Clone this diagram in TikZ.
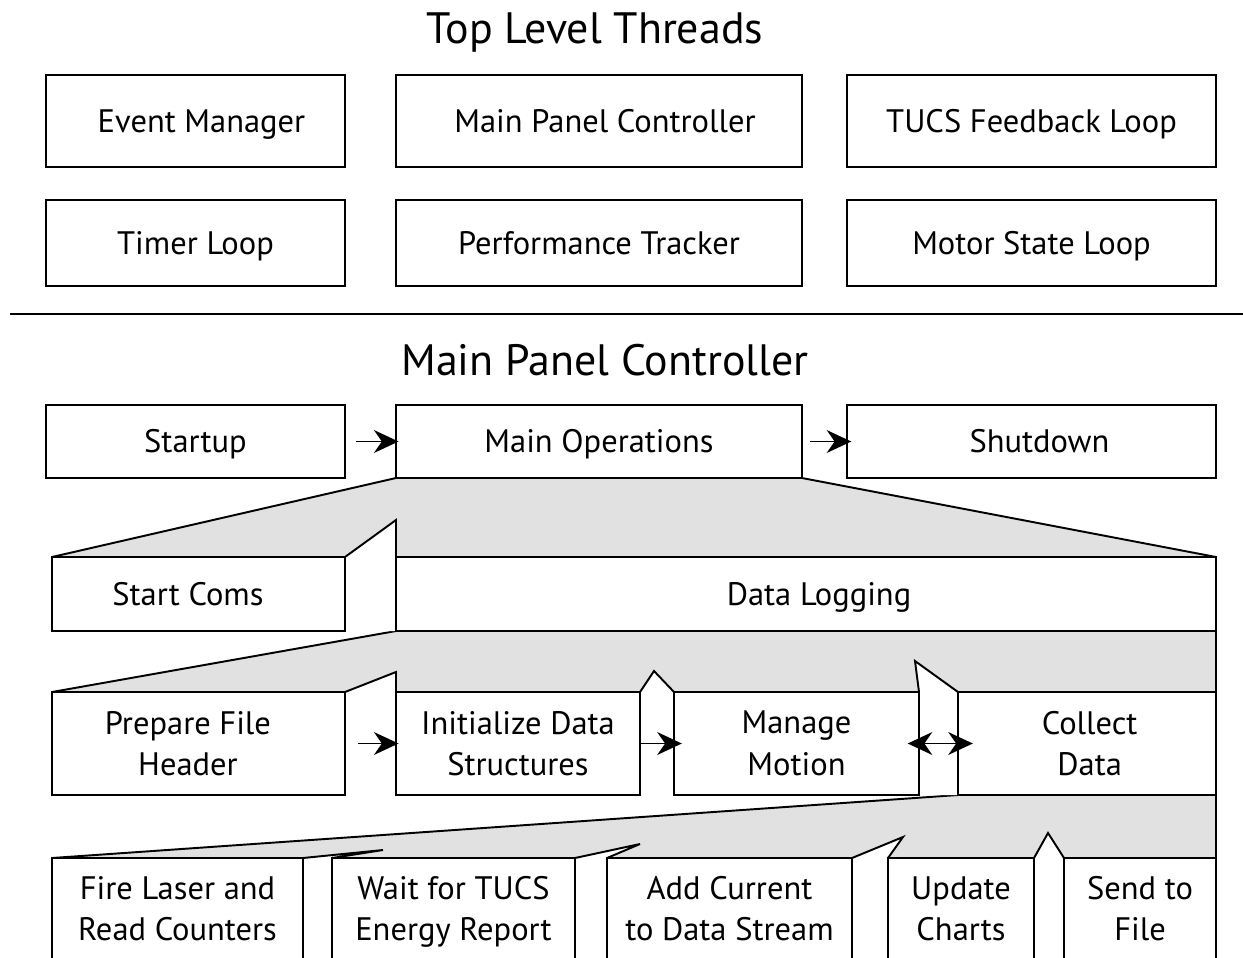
\documentclass[tikz,border=0pt]{standalone}
\usepackage{fontspec}
\setmainfont{PT Sans}
\usetikzlibrary{arrows.meta,fit}
\definecolor{fangray}{RGB}{224,225,224}
\newcommand\mystrut{\rule[-5pt]{0pt}{18pt}}
\begin{document}
\begin{tikzpicture}[x=0.02cm,y=-0.02cm,line width=1.1pt,
  box/.style={draw,fill=white,inner sep=0pt},
  lbl/.style={inner sep=0pt,align=center,yshift=-2.3pt,font=\fontsize{18.5}{23.5}\selectfont,
    execute at begin node=\mystrut,execute at end node=\mystrut},
  ttl/.style={inner sep=0pt,font=\fontsize{25}{29}\selectfont},
  tip/.tip={Stealth[length=14pt,width=13pt,inset=4.5pt]},
  arr/.style={-tip},
  darr/.style={tip-tip},
  fan/.style={fill=fangray},
  gap/.style={fill=white}]
\useasboundingbox (0,0) rectangle (1243,957);
\clip (0,0) rectangle (1243,957);

% titles
\node[ttl] (t1) at (595,33) {Top Level Threads};
\node[ttl] (t2) at (605,360) {Main Panel Controller};
\draw (10,314) -- (1243,314);

% top level threads
\node[box,fit={(46,75)(345,167)},label={[lbl,xshift=3.4pt]center:Event Manager}] (em) {};
\node[box,fit={(396,75)(802,167)},label={[lbl,xshift=3.4pt]center:Main Panel Controller}] (mpc) {};
\node[box,fit={(847,75)(1216,167)},label={[lbl]center:TUCS Feedback Loop}] (tucs) {};
\node[box,fit={(46,200)(345,286)},label={[lbl]center:Timer Loop}] (tl) {};
\node[box,fit={(396,200)(802,286)},label={[lbl]center:Performance Tracker}] (pt) {};
\node[box,fit={(847,200)(1216,286)},label={[lbl]center:Motor State Loop}] (msl) {};

% fans
\fill[fan] (396,478) -- (802,478) -- (1216,557) -- (52,557) -- cycle;
\draw (396,478) -- (52,557);
\draw (802,478) -- (1216,557);
\fill[fan] (396,631) -- (1216,631) -- (1216,692) -- (52,692) -- cycle;
\draw (396,631) -- (52,692);
\fill[fan] (958,795) -- (1216,795) -- (1216,858) -- (52,858) -- cycle;
\draw (958,795) -- (52,858);
\draw (1216,557) -- (1216,960);

% gaps between boxes
\fill[gap] (345,557) -- (396,520) -- (396,631) -- (345,631) -- cycle;
\fill[gap] (345,692) -- (396,672) -- (396,795) -- (345,795) -- cycle;
\fill[gap] (640,692) -- (654,671) -- (674,692) -- (674,795) -- (640,795) -- cycle;
\fill[gap] (919,692) -- (915,661) -- (958,692) -- (958,795) -- (919,795) -- cycle;
\fill[gap] (303,858) -- (383,850) -- (332,858) -- (332,960) -- (303,960) -- cycle;
\fill[gap] (575,858) -- (640,844) -- (607,858) -- (607,960) -- (575,960) -- cycle;
\fill[gap] (852,858) -- (903,837) -- (888,858) -- (888,960) -- (852,960) -- cycle;
\fill[gap] (1034,858) -- (1048,833) -- (1064,858) -- (1064,960) -- (1034,960) -- cycle;

% main panel controller rows
\node[box,fit={(46,405)(345,478)},label={[lbl]center:Startup}] (su) {};
\node[box,fit={(396,405)(802,478)},label={[lbl]center:Main Operations}] (mo) {};
\node[box,fit={(847,405)(1216,478)},label={[lbl,xshift=4.5pt]center:Shutdown}] (sd) {};

\node[box,fit={(52,557)(345,631)},label={[lbl,xshift=-6pt]center:Start Coms}] (sc) {};
\node[box,fit={(396,557)(1216,631)},label={[lbl,xshift=7.4pt]center:Data Logging}] (dl) {};

\node[box,fit={(52,692)(345,795)},label={[lbl,xshift=-6pt]center:Prepare File\\Header}] (pf) {};
\node[box,fit={(396,692)(640,795)},label={[lbl]center:Initialize Data\\Structures}] (id) {};
\node[box,fit={(674,692)(919,795)},label={[lbl]center:Manage\\Motion}] (mm) {};
\node[box,fit={(958,692)(1216,795)},label={[lbl,xshift=1.5pt]center:Collect\\Data}] (cd) {};

\node[box,fit={(52,858)(303,960)},label={[lbl]center:Fire Laser and\\Read Counters}] (fl) {};
\node[box,fit={(332,858)(575,960)},label={[lbl]center:Wait for TUCS\\Energy Report}] (wt) {};
\node[box,fit={(607,858)(852,960)},label={[lbl]center:Add Current\\to Data Stream}] (ac) {};
\node[box,fit={(888,858)(1034,960)},label={[lbl]center:Update\\Charts}] (uc) {};
\node[box,fit={(1064,858)(1216,960)},label={[lbl]center:Send to\\File}] (sf) {};

% gap outlines
\draw (345,557) -- (396,520) -- (396,557);
\draw (345,692) -- (396,672) -- (396,692);
\draw (640,692) -- (654,671) -- (674,692);
\draw (919,692) -- (915,661) -- (958,692);
\draw (303,858) -- (383,850) -- (332,858);
\draw (575,858) -- (640,844) -- (607,858);
\draw (852,858) -- (903,837) -- (888,858);
\draw (1034,858) -- (1048,833) -- (1064,858);

% arrows
\draw[arr,shorten <=5.5pt,shorten >=-2pt] (su) -- (mo);
\draw[arr,shorten <=4pt,shorten >=-3pt] (mo) -- (sd);
\draw[arr,shorten <=7pt,shorten >=-2pt] (pf) -- (id);
\draw[arr,shorten >=-5pt] (id) -- (mm);
\draw[darr,shorten <=-7pt,shorten >=-9pt] (mm) -- (cd);
\end{tikzpicture}
\end{document}
